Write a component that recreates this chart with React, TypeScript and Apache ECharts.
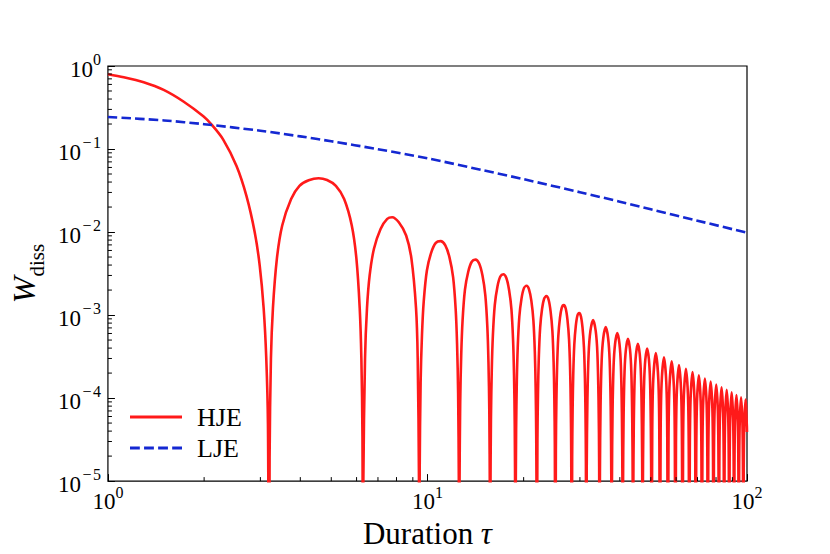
import React, { useEffect, useRef } from "react";
import * as echarts from "echarts";

const FONT = '"Liberation Serif", "DejaVu Serif", serif';
const RED = "#ff1a1a";
const BLUE = "#1428d2";

// axis ranges and tick marks
const X_MIN = 1;
const X_MAX = 100;
const Y_MIN = 1e-5;
const Y_MAX = 1;
const xMinorTicks = [2, 3, 4, 5, 6, 7, 8, 9, 20, 30, 40, 50, 60, 70, 80, 90];
const yMinorMantissas = [2, 3, 4, 5, 6, 7, 8, 9];
const yMinorDecades = [-5, -4, -3, -2, -1];

// LJE (dashed blue)
const ljeTau = [1, 1.5, 2, 3, 4, 5, 7, 10, 15, 20, 30, 40, 50, 70, 100];
const ljeW = [0.243, 0.221, 0.199, 0.166, 0.142, 0.124, 0.0995, 0.0772, 0.0553, 0.0433, 0.0302, 0.0232, 0.0188, 0.0137, 0.0098];

// HJE (solid red); zeros drawn below the axis floor
const hjeHead = [
  [1, 0.796], [1.121, 0.733], [1.294, 0.638], [1.494, 0.516], [1.723, 0.374], [1.989, 0.248],
  [2.11, 0.197], [2.295, 0.13], [2.526, 0.0625], [2.713, 0.0273], [2.88, 0.00996], [2.985, 0.00397],
  [3.072, 0.0012], [3.13, 0.0003], [3.168, 4.9e-5], [3.195, 1e-7],
];
const hjeLobes1to2 = [
  [3.206, 1.9e-5], [3.237, 3.0e-4], [3.284, 1.21e-3], [3.379, 4.78e-3], [3.511, 0.012], [3.744, 0.025],
  [3.976, 0.036], [4.25, 0.042], [4.564, 0.0445], [4.85, 0.0423], [5.169, 0.036], [5.486, 0.025],
  [5.796, 0.012], [5.993, 4.78e-3], [6.137, 1.21e-3], [6.211, 3.0e-4], [6.26, 3.5e-5], [6.283, 1e-7],
  [6.3, 1.0e-5], [6.377, 3.0e-4], [6.468, 1.21e-3], [6.594, 3.02e-3], [6.801, 6.3e-3], [7.133, 0.0109],
  [7.482, 0.0144], [7.755, 0.0151], [8.135, 0.0131], [8.576, 9.09e-3], [8.909, 4.78e-3], [9.209, 1.21e-3],
  [9.32, 3.04e-4], [9.405, 1.1e-5], [9.425, 1e-7],
];
const hjeLobes3to6 = [
  [9.456, 1.36e-5], [9.519, 1.53e-4], [9.613, 5.79e-4], [9.739, 1.49e-3], [9.959, 3.44e-3], [10.273, 5.66e-3],
  [10.619, 7.41e-3], [10.996, 7.78e-3], [11.373, 6.92e-3], [11.718, 4.96e-3], [12.032, 2.84e-3], [12.252, 1.19e-3],
  [12.378, 4.49e-4], [12.472, 1.17e-4], [12.535, 1.02e-5], [12.566, 1e-7],
  [12.598, 7.8e-6], [12.661, 8.83e-5], [12.755, 3.35e-4], [12.881, 8.68e-4], [13.1, 2.01e-3], [13.415, 3.33e-3],
  [13.76, 4.39e-3], [14.137, 4.65e-3], [14.514, 4.17e-3], [14.86, 3.01e-3], [15.174, 1.73e-3], [15.394, 7.26e-4],
  [15.519, 2.75e-4], [15.614, 7.15e-5], [15.676, 6.3e-6], [15.708, 1e-7],
  [15.739, 5.1e-6], [15.802, 5.76e-5], [15.896, 2.19e-4], [16.022, 5.68e-4], [16.242, 1.32e-3], [16.556, 2.2e-3],
  [16.902, 2.91e-3], [17.279, 3.1e-3], [17.656, 2.79e-3], [18.001, 2.02e-3], [18.316, 1.17e-3], [18.535, 4.91e-4],
  [18.661, 1.87e-4], [18.755, 4.85e-5], [18.818, 4.3e-6], [18.85, 1e-7],
  [18.881, 3.65e-6], [18.944, 4.12e-5], [19.038, 1.57e-4], [19.164, 4.08e-4], [19.384, 9.48e-4], [19.698, 1.59e-3],
  [20.043, 2.11e-3], [20.42, 2.25e-3], [20.797, 2.03e-3], [21.143, 1.48e-3], [21.457, 8.57e-4], [21.677, 3.6e-4],
  [21.803, 1.37e-4], [21.897, 3.57e-5], [21.96, 3.1e-6], [21.991, 1e-7],
];
const hjeLobes7to15 = [
  [22.086, 3.07e-5], [22.18, 1.17e-4], [22.305, 3.03e-4], [22.525, 7.07e-4], [22.84, 1.19e-3], [23.185, 1.58e-3],
  [23.562, 1.69e-3], [23.939, 1.53e-3], [24.285, 1.11e-3], [24.599, 6.48e-4], [24.819, 2.73e-4], [24.944, 1.04e-4],
  [25.038, 2.7e-5], [25.133, 1e-7],
  [25.227, 2.38e-5], [25.321, 9.05e-5], [25.447, 2.35e-4], [25.667, 5.49e-4], [25.981, 9.23e-4], [26.327, 1.23e-3],
  [26.704, 1.32e-3], [27.081, 1.2e-3], [27.426, 8.74e-4], [27.74, 5.08e-4], [27.96, 2.14e-4], [28.086, 8.16e-5],
  [28.18, 2.13e-5], [28.274, 1e-7],
  [28.369, 1.9e-5], [28.463, 7.23e-5], [28.588, 1.88e-4], [28.808, 4.39e-4], [29.122, 7.39e-4], [29.468, 9.88e-4],
  [29.845, 1.06e-3], [30.222, 9.63e-4], [30.568, 7.04e-4], [30.882, 4.1e-4], [31.102, 1.73e-4], [31.228, 6.59e-5],
  [31.322, 1.72e-5], [31.416, 1e-7],
  [31.51, 1.48e-5], [31.667, 9.57e-5], [31.95, 3.48e-4], [32.358, 6.44e-4], [32.987, 8.7e-4], [33.615, 6.44e-4],
  [34.023, 3.48e-4], [34.306, 9.57e-5], [34.463, 1.48e-5], [34.558, 1e-7],
  [34.652, 1.22e-5], [34.809, 7.87e-5], [35.091, 2.86e-4], [35.5, 5.29e-4], [36.128, 7.15e-4], [36.757, 5.29e-4],
  [37.165, 2.86e-4], [37.448, 7.87e-5], [37.605, 1.22e-5], [37.699, 1e-7],
  [37.793, 1.03e-5], [37.95, 6.67e-5], [38.233, 2.42e-4], [38.642, 4.48e-4], [39.27, 6.06e-4], [39.898, 4.48e-4],
  [40.306, 2.42e-4], [40.589, 6.67e-5], [40.746, 1.03e-5], [40.841, 1e-7],
  [40.935, 8.8e-6], [41.092, 5.7e-5], [41.375, 2.07e-4], [41.783, 3.83e-4], [42.412, 5.18e-4], [43.04, 3.83e-4],
  [43.448, 2.07e-4], [43.731, 5.7e-5], [43.888, 8.8e-6], [43.982, 1e-7],
  [44.077, 7.7e-6], [44.233, 4.96e-5], [44.516, 1.8e-4], [44.925, 3.34e-4], [45.553, 4.51e-4], [46.181, 3.34e-4],
  [46.59, 1.8e-4], [46.872, 4.96e-5], [47.029, 7.7e-6], [47.124, 1e-7],
  [47.218, 6.7e-6], [47.375, 4.35e-5], [47.658, 1.58e-4], [48.066, 2.92e-4], [48.695, 3.95e-4], [49.323, 2.92e-4],
  [49.731, 1.58e-4], [50.014, 4.35e-5], [50.171, 6.7e-6], [50.265, 1e-7],
];
const hjeLobes16to31 = [
  [50.517, 3.83e-5], [50.894, 1.67e-4], [51.836, 3.48e-4], [52.779, 1.67e-4], [53.156, 3.83e-5], [53.407, 1e-7],
  [53.658, 3.41e-5], [54.035, 1.49e-4], [54.978, 3.1e-4], [55.92, 1.49e-4], [56.297, 3.41e-5], [56.549, 1e-7],
  [56.8, 3.05e-5], [57.177, 1.33e-4], [58.119, 2.77e-4], [59.062, 1.33e-4], [59.439, 3.05e-5], [59.69, 1e-7],
  [59.941, 2.75e-5], [60.319, 1.2e-4], [61.261, 2.5e-4], [62.204, 1.2e-4], [62.581, 2.75e-5], [62.832, 1e-7],
  [63.083, 2.49e-5], [63.46, 1.08e-4], [64.403, 2.26e-4], [65.345, 1.08e-4], [65.722, 2.49e-5], [65.973, 1e-7],
  [66.225, 2.27e-5], [66.602, 9.9e-5], [67.544, 2.06e-4], [68.487, 9.9e-5], [68.864, 2.27e-5], [69.115, 1e-7],
  [69.366, 2.07e-5], [69.743, 9.0e-5], [70.686, 1.88e-4], [71.628, 9.0e-5], [72.005, 2.07e-5], [72.257, 1e-7],
  [72.508, 1.89e-5], [72.885, 8.3e-5], [73.827, 1.72e-4], [74.77, 8.3e-5], [75.147, 1.89e-5], [75.398, 1e-7],
  [75.649, 1.74e-5], [76.027, 7.6e-5], [76.969, 1.58e-4], [77.911, 7.6e-5], [78.288, 1.74e-5], [78.54, 1e-7],
  [78.791, 1.61e-5], [79.168, 7.0e-5], [80.111, 1.46e-4], [81.053, 7.0e-5], [81.43, 1.61e-5], [81.681, 1e-7],
  [81.933, 1.49e-5], [82.31, 6.5e-5], [83.252, 1.35e-4], [84.195, 6.5e-5], [84.572, 1.49e-5], [84.823, 1e-7],
  [85.074, 1.39e-5], [85.451, 6.0e-5], [86.394, 1.26e-4], [87.336, 6.0e-5], [87.713, 1.39e-5], [87.965, 1e-7],
  [88.216, 1.29e-5], [88.593, 5.6e-5], [89.535, 1.17e-4], [90.478, 5.6e-5], [90.855, 1.29e-5], [91.106, 1e-7],
  [91.357, 1.2e-5], [91.735, 5.2e-5], [92.677, 1.09e-4], [93.619, 5.2e-5], [93.996, 1.2e-5], [94.248, 1e-7],
  [94.499, 1.12e-5], [94.876, 4.9e-5], [95.819, 1.02e-4], [96.761, 4.9e-5], [97.138, 1.12e-5], [97.389, 1e-7],
  [97.641, 1.06e-5], [98.018, 4.6e-5], [98.96, 9.6e-5], [99.903, 4.6e-5], [100, 3.9e-5],
];

const tickLabel = (v: number) => {
  const e = Math.round(Math.log10(v));
  if (e < 0) return `{b|10}{m|\u2212}{s|${Math.abs(e)}}`;
  return `{b|10}{s|${e}}`;
};

const tickRich = {
  b: { fontFamily: FONT, fontSize: 23, color: "#000", lineHeight: 29, verticalAlign: "bottom" },
  m: { fontFamily: FONT, fontSize: 16, color: "#000", verticalAlign: "top", padding: [0, 1.5, 0, 1.5] },
  s: { fontFamily: FONT, fontSize: 16, color: "#000", verticalAlign: "top" },
};

export default function App() {
  const ref = useRef<HTMLDivElement>(null);

  useEffect(() => {
    document.body.style.margin = "0";
    if (!ref.current) return;
    const chart = echarts.init(ref.current, null, { renderer: "svg" });

    const hje = [...hjeHead, ...hjeLobes1to2, ...hjeLobes3to6, ...hjeLobes7to15, ...hjeLobes16to31];
    const lje = ljeTau.map((t, i) => [t, ljeW[i]]);
    const yMinor: number[][] = [];
    yMinorDecades.forEach((d) => yMinorMantissas.forEach((m) => yMinor.push([X_MIN, m * Math.pow(10, d)])));
    const xMinor = xMinorTicks.map((v) => [v, Y_MIN]);

    chart.setOption({
      animation: false,
      backgroundColor: "#fff",
      grid: {
        left: 104,
        right: 83,
        top: 66,
        bottom: 70,
        show: true,
        borderColor: "#000",
        borderWidth: 1.2,
        backgroundColor: "transparent",
      },
      legend: {
        orient: "vertical",
        left: 125,
        top: 399,
        itemGap: 5,
        itemWidth: 52,
        itemHeight: 3,
        symbolKeepAspect: false,
        selectedMode: false,
        data: [
          { name: "HJE", icon: "rect" },
          {
            name: "LJE",
            icon: "path://M0,0h9.5v2.6h-9.5zM13.6,0h9.5v2.6h-9.5zM27.2,0h9.5v2.6h-9.5zM40.8,0h9.5v2.6h-9.5z",
          },
        ],
        textStyle: { fontFamily: FONT, fontSize: 26, color: "#000", padding: [0, 0, 0, 10] },
      },
      xAxis: {
        type: "log",
        logBase: 10,
        min: X_MIN,
        max: X_MAX,
        name: "{r|Duration }{i|\u03c4}",
        nameLocation: "middle",
        nameGap: 28,
        nameTextStyle: {
          rich: {
            r: { fontFamily: FONT, fontSize: 31, color: "#000" },
            i: { fontFamily: FONT, fontSize: 31, color: "#000", fontStyle: "italic" },
          },
        },
        axisLine: { show: false },
        axisTick: { show: true, inside: true, length: 7, lineStyle: { color: "#000", width: 1 } },
        splitLine: { show: false },
        axisLabel: {
          formatter: tickLabel,
          rich: tickRich,
          margin: 3,
          showMinLabel: true,
          showMaxLabel: true,
        },
      },
      yAxis: {
        type: "log",
        logBase: 10,
        min: Y_MIN,
        max: Y_MAX,
        name: "{w|W}{d|diss}",
        nameLocation: "middle",
        nameGap: 59,
        nameTextStyle: {
          rich: {
            w: { fontFamily: FONT, fontSize: 32, color: "#000", fontStyle: "italic", lineHeight: 46 },
            d: { fontFamily: FONT, fontSize: 21, color: "#000", verticalAlign: "bottom" },
          },
        },
        axisLine: { show: false },
        axisTick: { show: true, inside: true, length: 7, lineStyle: { color: "#000", width: 1 } },
        splitLine: { show: false },
        axisLabel: {
          formatter: tickLabel,
          rich: tickRich,
          margin: 7,
          showMinLabel: true,
          showMaxLabel: true,
        },
      },
      series: [
        {
          name: "HJE",
          type: "line",
          data: hje,
          symbol: "none",
          showSymbol: false,
          clip: true,
          smooth: 0.3,
          color: RED,
          lineStyle: { color: RED, width: 2.6 },
          z: 2,
        },
        {
          name: "LJE",
          type: "line",
          data: lje,
          symbol: "none",
          showSymbol: false,
          clip: true,
          smooth: 0.3,
          color: BLUE,
          lineStyle: { color: BLUE, width: 2.6, type: [9.5, 4.1] },
          z: 3,
        },
        {
          type: "custom",
          name: "xMinorTicks",
          data: xMinor,
          silent: true,
          clip: false,
          z: 5,
          renderItem: (params: any, api: any) => {
            const p = api.coord([api.value(0), api.value(1)]);
            return {
              type: "line",
              shape: { x1: p[0], y1: p[1], x2: p[0], y2: p[1] - 4 },
              style: { stroke: "#000", lineWidth: 1 },
            };
          },
        },
        {
          type: "custom",
          name: "yMinorTicks",
          data: yMinor,
          silent: true,
          clip: false,
          z: 5,
          renderItem: (params: any, api: any) => {
            const p = api.coord([api.value(0), api.value(1)]);
            return {
              type: "line",
              shape: { x1: p[0], y1: p[1], x2: p[0] + 4, y2: p[1] },
              style: { stroke: "#000", lineWidth: 1 },
            };
          },
        },
      ],
    });

    return () => {
      chart.dispose();
    };
  }, []);

  return <div ref={ref} style={{ width: 830, height: 554 }} />;
}
